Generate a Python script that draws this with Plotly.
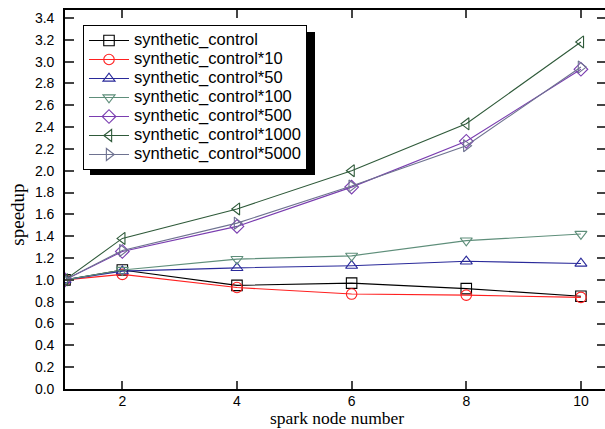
import plotly.graph_objects as go

nodes = [1, 2, 4, 6, 8, 10]
names = ["synthetic_control", "synthetic_control*10", "synthetic_control*50",
         "synthetic_control*100", "synthetic_control*500",
         "synthetic_control*1000", "synthetic_control*5000"]
sc_1 = [1.0, 1.09, 0.95, 0.97, 0.92, 0.85]
sc_10 = [1.0, 1.05, 0.93, 0.87, 0.86, 0.84]
sc_50 = [1.0, 1.08, 1.11, 1.13, 1.17, 1.15]
sc_100 = [1.0, 1.09, 1.19, 1.22, 1.36, 1.42]
sc_500 = [1.0, 1.26, 1.49, 1.85, 2.27, 2.93]
sc_1000 = [1.0, 1.38, 1.65, 2.0, 2.43, 3.18]
sc_5000 = [1.0, 1.27, 1.52, 1.86, 2.23, 2.95]
series = [sc_1, sc_10, sc_50, sc_100, sc_500, sc_1000, sc_5000]
colors = ["#000000", "#FF2020", "#2A2A9A", "#5E8E7A", "#7A3DB0", "#2F5A3A", "#6E7290"]
symbols = ["square-open", "circle-open", "triangle-up-open", "triangle-down-open",
           "diamond-open", "triangle-left-open", "triangle-right-open"]
y_ticks = [round(0.2 * i, 1) for i in range(18)]
x_ticks = [2, 4, 6, 8, 10]

fig = go.Figure()
for name, vals, c, s in zip(names, series, colors, symbols):
    fig.add_trace(go.Scatter(
        x=nodes, y=vals, mode="lines+markers",
        name='<span style="font-size:16.5px">' + name + '</span>',
        line=dict(color=c, width=1.1),
        marker=dict(symbol=s, size=10.5, color=c, line=dict(width=1.1, color=c)),
    ))
# invisible helper trace for right-side mirrored ticks
fig.add_trace(go.Scatter(x=[None], y=[None], yaxis="y2", showlegend=False, hoverinfo="skip"))

W, H = 605, 429
ml, mr, mt, mb = 65, 0, 10, 40
pw, ph = W - ml - mr, H - mt - mb

lg_left, lg_top = 83, 25
lg_w, lg_h = 225, 143
sh = 7

fig.update_layout(
    width=W, height=H,
    margin=dict(l=ml, r=mr, t=mt, b=mb, pad=0),
    paper_bgcolor="white", plot_bgcolor="white",
    font=dict(family="Liberation Sans, Arial", size=14, color="black"),
    showlegend=True,
    legend=dict(
        x=(lg_left - ml) / pw, y=1 - (lg_top - mt) / ph,
        xanchor="left", yanchor="top",
        bgcolor="white", bordercolor="black", borderwidth=1,
        font=dict(family="Liberation Sans, Arial", size=12, color="black"),
        tracegroupgap=0, itemwidth=40,
    ),
    xaxis=dict(
        range=[1, 10.42], tickvals=x_ticks, ticks="inside", ticklen=8, tickwidth=1.5,
        showline=True, linewidth=1.6, linecolor="black", mirror="ticks",
        showgrid=False, zeroline=False, ticklabelstandoff=-2, automargin=False,
        tickfont=dict(family="Liberation Sans, Arial", size=14),
    ),
    yaxis=dict(
        range=[0, 3.473], tickvals=y_ticks, tickformat=".1f", ticks="inside",
        ticklen=9, tickwidth=1.5, showline=True, linewidth=1.6, linecolor="black",
        showgrid=False, zeroline=False, ticklabelstandoff=6, automargin=False,
        tickfont=dict(family="Liberation Sans, Arial", size=14),
    ),
    yaxis2=dict(
        overlaying="y", side="right", range=[0, 3.473], tickvals=y_ticks,
        ticks="inside", ticklen=8, tickwidth=1.5, showticklabels=False,
        showline=False, showgrid=False, zeroline=False,
    ),
    annotations=[
        dict(text="speedup", xref="paper", yref="paper", x=-(ml - 18) / pw, y=0.46,
             xanchor="center", yanchor="middle", textangle=-90, showarrow=False,
             font=dict(family="Liberation Serif, Times New Roman", size=19, color="black")),
        dict(text="spark node number", xref="paper", yref="paper",
             x=(337 - ml) / pw, y=-mb / ph,
             xanchor="center", yanchor="bottom", showarrow=False, borderpad=0,
             font=dict(family="Liberation Serif, Times New Roman", size=17.5, color="black")),
    ],
)

# legend drop shadow (decoration)
fig.add_shape(type="rect", xref="paper", yref="paper",
              x0=(lg_left + sh - ml) / pw, x1=(lg_left + lg_w + sh - ml) / pw,
              y0=1 - (lg_top + lg_h + sh - mt) / ph, y1=1 - (lg_top + sh - mt) / ph,
              fillcolor="black", line=dict(width=0), layer="above")

fig.write_html("out.html")
